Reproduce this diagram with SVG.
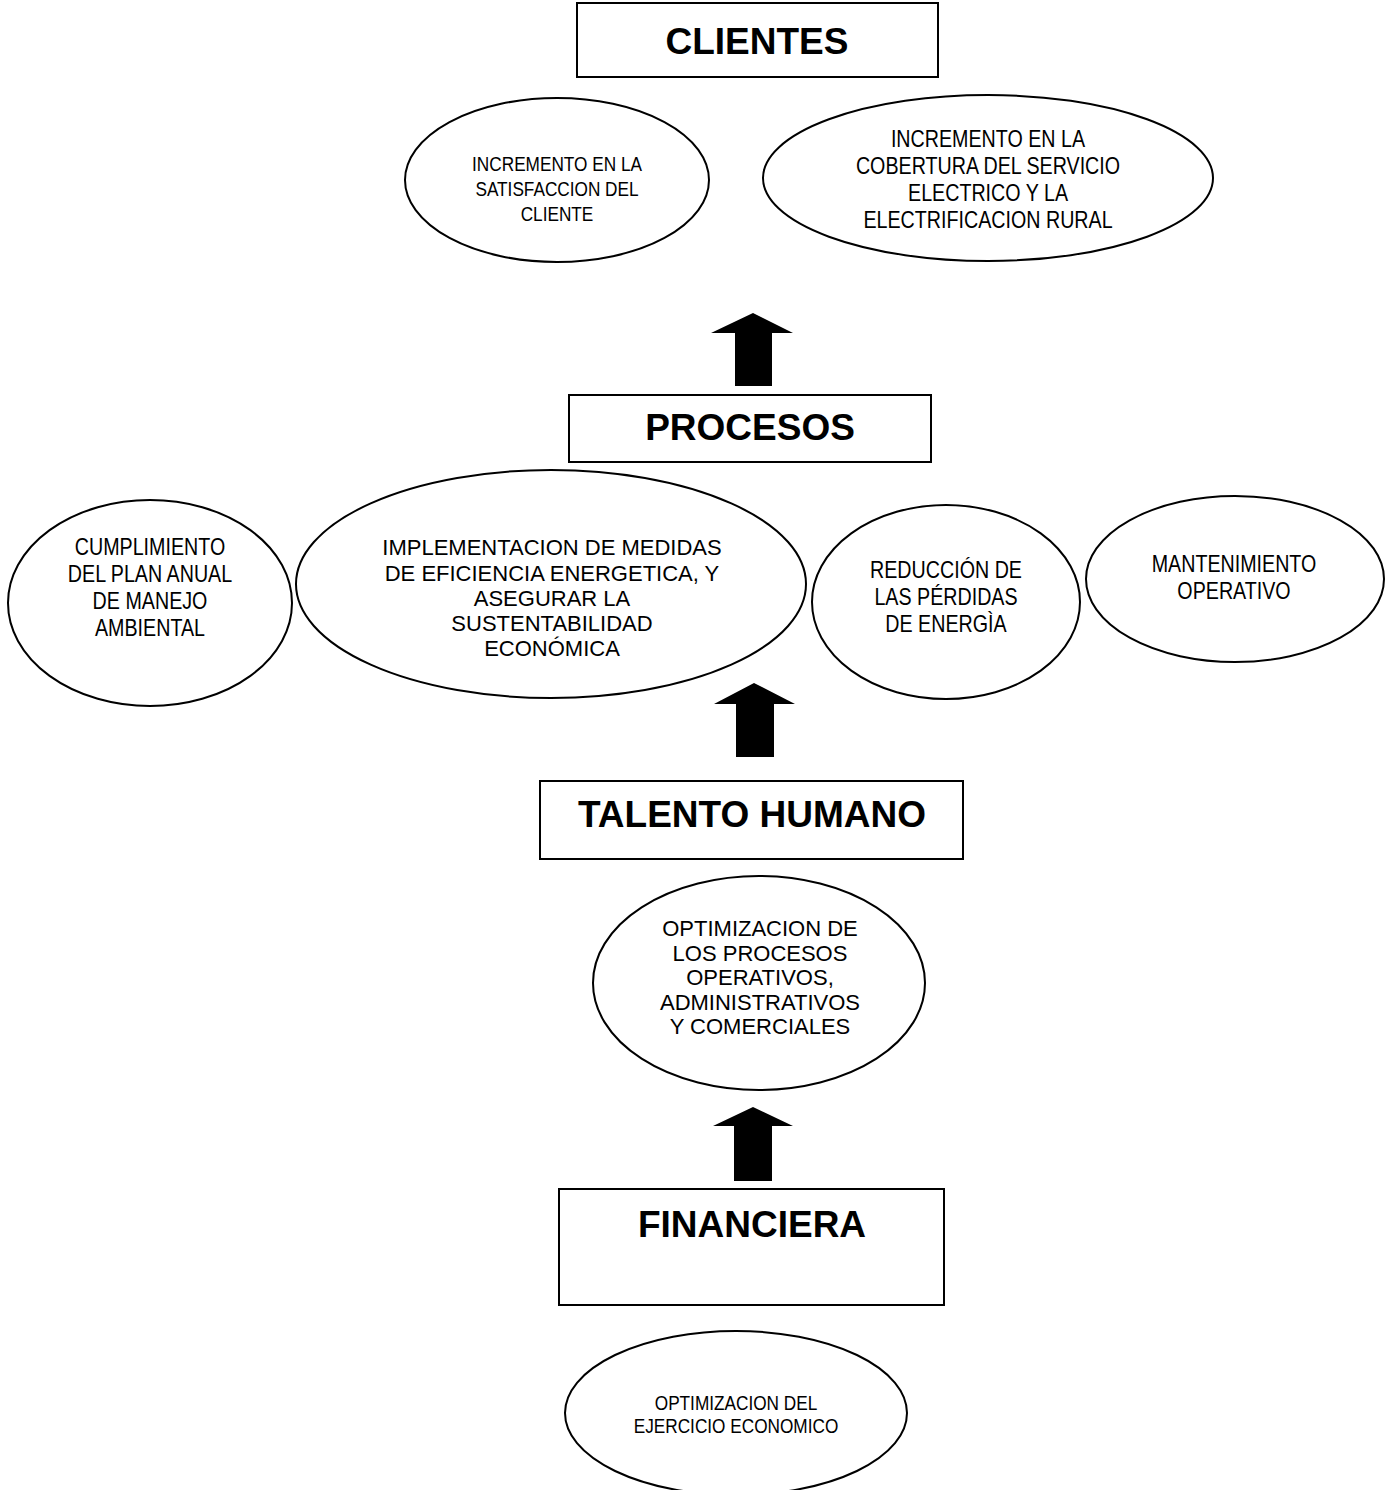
<svg xmlns="http://www.w3.org/2000/svg" width="1388" height="1490" viewBox="0 0 1388 1490">
<style>
.box{fill:#fff;stroke:#000;stroke-width:2}
.ell{fill:#fff;stroke:#000;stroke-width:2}
.title{font-family:"Liberation Sans",Arial,sans-serif;font-weight:bold;font-size:37px;text-anchor:middle;fill:#000}
.n{font-family:"Liberation Sans",Arial,sans-serif;text-anchor:middle;fill:#000}
.r{font-family:"Liberation Sans",Arial,sans-serif;text-anchor:middle;fill:#000;font-size:22px}
.arrow{fill:#000}
</style>
<rect width="1388" height="1490" fill="#fff"/>
<g id="connectors">
<path class="arrow" d="M753,313 L793,333 L772,333 L772,386 L735,386 L735,333 L711,333 Z"/>
<path class="arrow" d="M754,683 L795,704 L774,704 L774,757 L736,757 L736,704 L714,704 Z"/>
<path class="arrow" d="M753,1107 L793,1126 L772,1126 L772,1181 L734,1181 L734,1126 L713,1126 Z"/>
</g>
<g id="clientes">
<rect class="box" x="577" y="3" width="361" height="74"/>
<text class="title" x="757" y="54" font-size="36">CLIENTES</text>
</g>
<g id="satisfaccion">
<ellipse class="ell" cx="557" cy="180" rx="152" ry="82"/>
<text class="n" font-size="21" transform="translate(557,0) scale(0.82,1)"><tspan x="0" y="171">INCREMENTO EN LA</tspan><tspan x="0" y="196">SATISFACCION DEL</tspan><tspan x="0" y="221">CLIENTE</tspan></text>
</g>
<g id="cobertura">
<ellipse class="ell" cx="988" cy="178" rx="225" ry="83"/>
<text class="n" font-size="24" transform="translate(988,0) scale(0.82,1)"><tspan x="0" y="147">INCREMENTO EN LA</tspan><tspan x="0" y="174">COBERTURA DEL SERVICIO</tspan><tspan x="0" y="201">ELECTRICO Y LA</tspan><tspan x="0" y="228">ELECTRIFICACION RURAL</tspan></text>
</g>
<g id="procesos">
<rect class="box" x="569" y="395" width="362" height="67"/>
<text class="title" x="750" y="440">PROCESOS</text>
</g>
<g id="cumplimiento">
<ellipse class="ell" cx="150" cy="603" rx="142" ry="103"/>
<text class="n" font-size="24" transform="translate(150,0) scale(0.82,1)"><tspan x="0" y="555">CUMPLIMIENTO</tspan><tspan x="0" y="582">DEL PLAN ANUAL</tspan><tspan x="0" y="609">DE MANEJO</tspan><tspan x="0" y="636">AMBIENTAL</tspan></text>
</g>
<g id="implementacion">
<ellipse class="ell" cx="551" cy="584" rx="255" ry="114"/>
<text class="r"><tspan x="552" y="555">IMPLEMENTACION DE MEDIDAS</tspan><tspan x="552" y="581">DE EFICIENCIA ENERGETICA, Y</tspan><tspan x="552" y="606">ASEGURAR LA</tspan><tspan x="552" y="631">SUSTENTABILIDAD</tspan><tspan x="552" y="656">ECONÓMICA</tspan></text>
</g>
<g id="reduccion">
<ellipse class="ell" cx="946" cy="602" rx="134" ry="97"/>
<text class="n" font-size="24" transform="translate(946,0) scale(0.82,1)"><tspan x="0" y="578">REDUCCIÓN DE</tspan><tspan x="0" y="605">LAS PÉRDIDAS</tspan><tspan x="0" y="632">DE ENERGÌA</tspan></text>
</g>
<g id="mantenimiento">
<ellipse class="ell" cx="1235" cy="579" rx="149" ry="83"/>
<text class="n" font-size="24" transform="translate(1234,0) scale(0.82,1)"><tspan x="0" y="572">MANTENIMIENTO</tspan><tspan x="0" y="599">OPERATIVO</tspan></text>
</g>
<g id="talento">
<rect class="box" x="540" y="781" width="423" height="78"/>
<text class="title" x="752" y="827">TALENTO HUMANO</text>
</g>
<g id="optimizacion-procesos">
<ellipse class="ell" cx="759" cy="983" rx="166" ry="107"/>
<text class="r"><tspan x="760" y="936">OPTIMIZACION DE</tspan><tspan x="760" y="961">LOS PROCESOS</tspan><tspan x="760" y="985">OPERATIVOS,</tspan><tspan x="760" y="1010">ADMINISTRATIVOS</tspan><tspan x="760" y="1034">Y COMERCIALES</tspan></text>
</g>
<g id="financiera">
<rect class="box" x="559" y="1189" width="385" height="116"/>
<text class="title" x="752" y="1237">FINANCIERA</text>
</g>
<g id="optimizacion-ejercicio">
<ellipse class="ell" cx="736" cy="1413" rx="171" ry="82"/>
<text class="n" font-size="21" transform="translate(736,0) scale(0.82,1)"><tspan x="0" y="1410">OPTIMIZACION DEL</tspan><tspan x="0" y="1433">EJERCICIO ECONOMICO</tspan></text>
</g>
</svg>
